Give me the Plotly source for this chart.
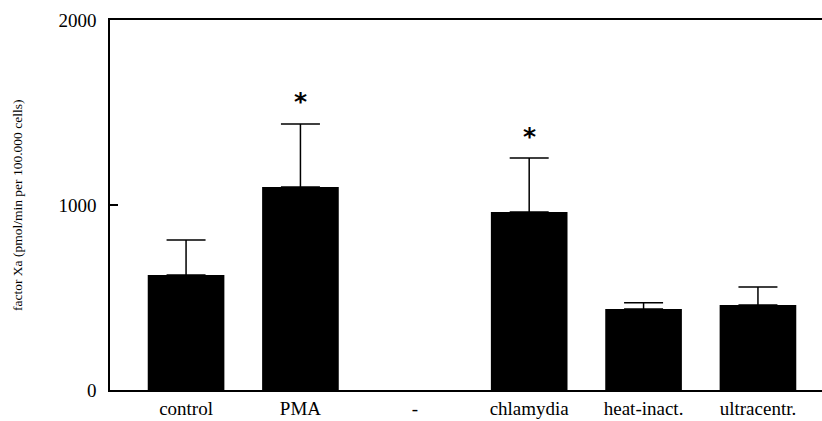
import plotly.graph_objects as go

categories = ["control", "PMA", "-", "chlamydia", "heat-inact.", "ultracentr."]
means = [622, 1097, None, 962, 438, 459]
err_plus = [189, 341, None, 292, 34, 98]
significant = [False, True, False, True, False, False]

W, H = 822, 421
ml, mr, mt, mb = 110, 0, 20, 31

fig = go.Figure()
fig.add_trace(go.Bar(
    x=categories, y=means,
    width=0.67,
    marker=dict(color="black", line=dict(width=0)),
    error_y=dict(type="data", symmetric=False, array=err_plus,
                 arrayminus=[0]*len(err_plus),
                 color="black", thickness=1.5, width=19.5),
))

for c, m, e, s in zip(categories, means, err_plus, significant):
    if s:
        fig.add_annotation(x=c, y=m + e, xref="x", yref="y", text="<b>*</b>",
                           showarrow=False, yshift=22,
                           font=dict(family="DejaVu Sans", size=25, color="black"))

fig.add_annotation(
    x=(17 - ml) / (W - ml - mr), y=0.5, xref="paper", yref="paper",
    text="factor Xa (pmol/min per 100.000 cells)", textangle=-90,
    showarrow=False, xanchor="center", yanchor="middle",
    font=dict(family="Liberation Serif", size=13.5, color="black"))

fig.update_layout(
    width=W, height=H,
    margin=dict(l=ml, r=mr, t=mt, b=mb, autoexpand=False),
    paper_bgcolor="white", plot_bgcolor="white",
    showlegend=False,
    font=dict(family="Liberation Serif", color="black"),
    xaxis=dict(type="category", range=[-0.665, 5.56],
               showline=True, linecolor="black", linewidth=1.5, mirror=True,
               showgrid=False, ticks="", tickfont=dict(size=19),
               automargin=False, zeroline=False),
    yaxis=dict(range=[0, 2000], tickvals=[0, 1000, 2000],
               showline=True, linecolor="black", linewidth=1.5,
               showgrid=False, zeroline=False, ticks="inside", ticklen=8,
               tickcolor="black", tickwidth=1.5, tickfont=dict(size=19),
               ticklabelstandoff=8, automargin=False),
)

fig.write_html("out.html", config={"displayModeBar": False},
               post_script="document.body.style.margin='0';document.body.style.overflow='hidden';")
